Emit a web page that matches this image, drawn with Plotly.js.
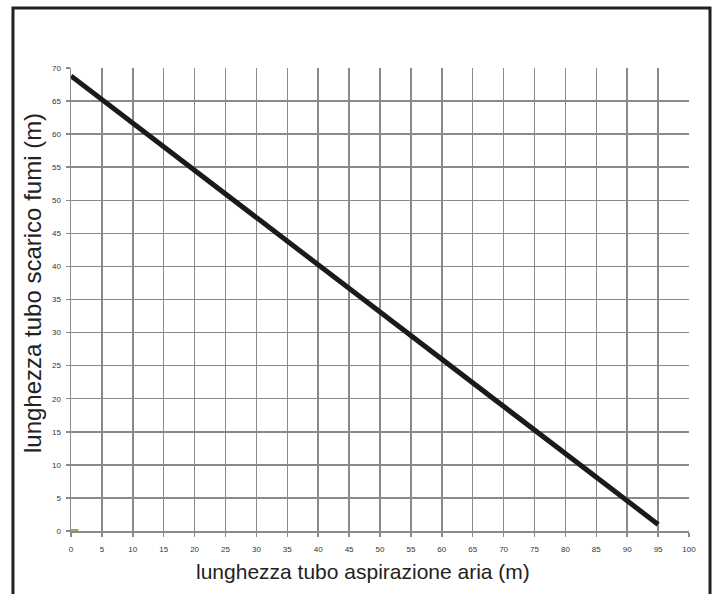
<!DOCTYPE html>
<html>
<head>
<meta charset="utf-8">
<script src="https://cdn.plot.ly/plotly-3.0.1.min.js"></script>
<style>
html,body{margin:0;padding:0;background:#fff;}
#chart{width:718px;height:594px;}
</style>
</head>
<body>
<div id="chart"></div>
<script>
// Data
const lineX = [0, 95];
const lineY = [68.8, 1];
const markX = [0, 1.2];
const markY = [0, 0];
const xTicks = [0,5,10,15,20,25,30,35,40,45,50,55,60,65,70,75,80,85,90,95,100];
const yTicks = [0,5,10,15,20,25,30,35,40,45,50,55,60,65,70];
const xTitle = "lunghezza tubo aspirazione aria (m)";
const yTitle = "lunghezza tubo scarico fumi (m)";

const traces = [
  {x: markX, y: markY, mode: 'lines', line: {color: '#8db54b', width: 4}, hoverinfo: 'skip'},
  {x: lineX, y: lineY, mode: 'lines', line: {color: '#1a1a1a', width: 5}, hoverinfo: 'skip'}
];

const axisCommon = {
  showgrid: true, gridcolor: '#8a8a8a', gridwidth: 1.5,
  showline: true, linecolor: '#8a8a8a', linewidth: 1.5,
  ticks: 'outside', ticklen: 4, tickcolor: '#8a8a8a', tickwidth: 1.5,
  zeroline: false,
  tickfont: {family: 'Liberation Sans, Arial, sans-serif', size: 8, color: '#333'},
  tickmode: 'array'
};

const layout = {
  width: 718, height: 594,
  margin: {l: 71, r: 29, t: 68, b: 63},
  paper_bgcolor: '#fff', plot_bgcolor: '#fff',
  showlegend: false,
  xaxis: Object.assign({}, axisCommon, {
    range: [0, 100], tickvals: xTicks, ticktext: xTicks.map(String),
    ticklabelstandoff: 6
  }),
  yaxis: Object.assign({}, axisCommon, {
    range: [0, 70], tickvals: yTicks, ticktext: yTicks.map(String),
    ticklabelstandoff: 3
  }),
  annotations: [
    {text: xTitle, xref: 'paper', yref: 'paper', x: 0.4725, y: -0.0864,
     xanchor: 'center', yanchor: 'middle', showarrow: false,
     font: {family: 'Liberation Sans, Arial, sans-serif', size: 21, color: '#222'}},
    {text: yTitle, xref: 'paper', yref: 'paper', x: -0.0631, y: 0.5356, textangle: -90,
     xanchor: 'center', yanchor: 'middle', showarrow: false,
     font: {family: 'Liberation Sans, Arial, sans-serif', size: 24, color: '#222'}}
  ],
  shapes: [{
    type: 'rect', xref: 'paper', yref: 'paper',
    x0: -0.0939, x1: 1.034, y0: -0.1706, y1: 1.1296,
    line: {color: '#231f20', width: 3}, fillcolor: 'rgba(0,0,0,0)', layer: 'above'
  }]
};

Plotly.newPlot('chart', traces, layout, {displayModeBar: false, staticPlot: true});
</script>
</body>
</html>
